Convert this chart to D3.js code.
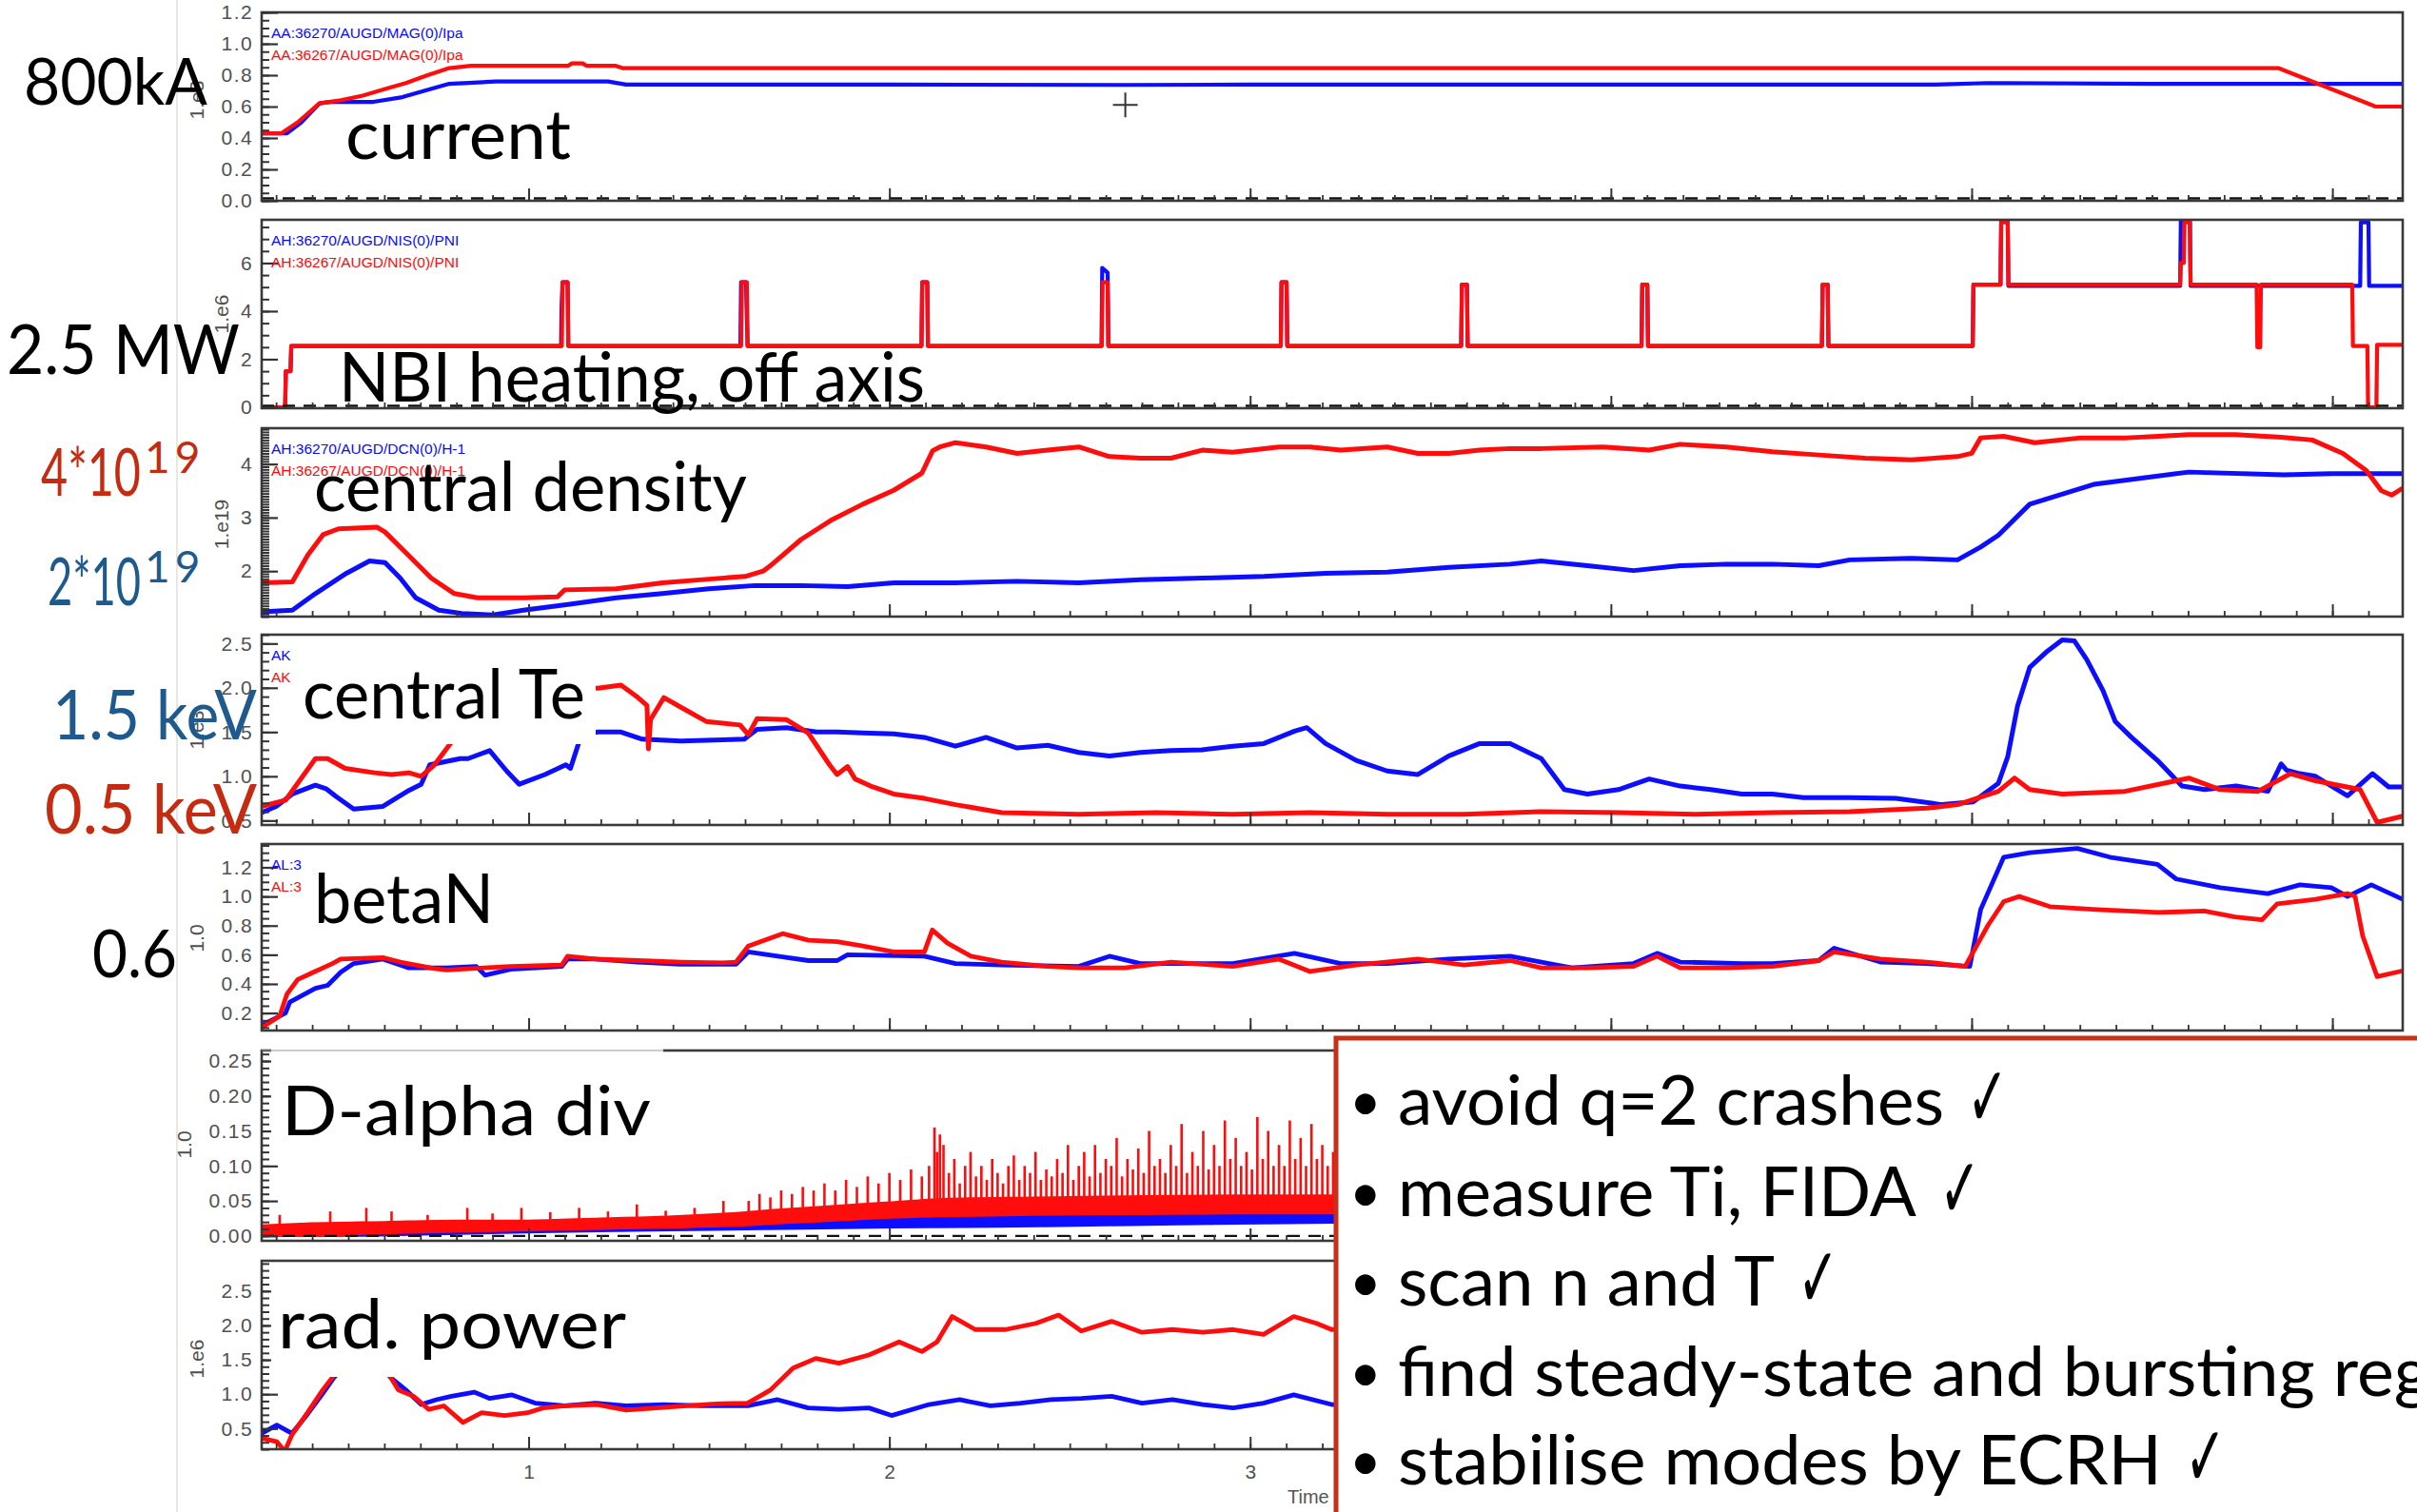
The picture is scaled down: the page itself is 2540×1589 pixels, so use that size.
<!DOCTYPE html>
<html><head><meta charset="utf-8">
<script src="https://cdn.jsdelivr.net/npm/d3@7"></script>
<style>html,body{margin:0;padding:0;background:#fff}svg{display:block}</style>
</head><body>
<svg id="c" width="2540" height="1589"></svg>
<script>
// ---------------- DATA ----------------
const timeDomain=[0.26,6.195];
const xMajorTicks=[1,2,3,4,5,6];
const xMinorTicks=d3.range(3,62).map(d=>d/10);

const ipTicks=[0,0.2,0.4,0.6,0.8,1.0,1.2];
const nbiTicks=[0,2,4,6];
const neTicks=[2,3,4];
const teTicks=[0.5,1.0,1.5,2.0,2.5];
const bnTicks=[0.2,0.4,0.6,0.8,1.0,1.2];
const daTicks=[0,0.05,0.10,0.15,0.20,0.25];
const radTicks=[0.5,1.0,1.5,2.0,2.5];

const ipLegend=["AA:36270/AUGD/MAG(0)/Ipa","AA:36267/AUGD/MAG(0)/Ipa"];
const nbiLegend=["AH:36270/AUGD/NIS(0)/PNI","AH:36267/AUGD/NIS(0)/PNI"];
const neLegend=["AH:36270/AUGD/DCN(0)/H-1","AH:36267/AUGD/DCN(0)/H-1"];
const teLegend=["AK","AK"];
const bnLegend=["AL:3","AL:3"];
const expLabels=["1.e3","1.e6","1.e19","1.e3","1.0","1.0","1.e6"];
const panelTitles=["current","NBI heating, off axis","central density","central Te","betaN","D-alpha div","rad. power"];
const sideLabels=["800kA","2.5 MW","4*10","19","2*10","19","1.5 keV","0.5 keV","0.6"];
const bullets=["avoid q=2 crashes","measure Ti, FIDA","scan n and T","find steady-state and bursting reg","stabilise modes by ECRH"];
const bulletChecks=[true,true,true,false,true];

// plasma current (MA) [time s, value]
const ipBlue=[[0.26,0.43],[0.33,0.43],[0.37,0.5],[0.42,0.62],[0.45,0.63],[0.57,0.63],[0.65,0.66],[0.71,0.7],[0.78,0.745],[0.91,0.76],[1.22,0.76],[1.27,0.74],[2.0,0.74],[2.654,0.738],[3.0,0.74],[4.0,0.74],[4.9,0.74],[5.05,0.75],[5.5,0.745],[6.0,0.745],[6.195,0.745]];
const ipRed=[[0.26,0.43],[0.315,0.43],[0.36,0.5],[0.42,0.62],[0.48,0.64],[0.54,0.67],[0.6,0.71],[0.66,0.75],[0.72,0.8],[0.78,0.845],[0.84,0.86],[1.11,0.86],[1.12,0.875],[1.15,0.875],[1.16,0.86],[1.24,0.86],[1.26,0.845],[2.0,0.845],[3.0,0.845],[4.0,0.845],[5.0,0.845],[5.85,0.845],[6.12,0.6],[6.195,0.6]];

// NBI power (MW)
const nbiBlue=[[0.26,0],[0.325,0],[0.327,1.5],[0.34,1.5],[0.342,2.55],
[1.09,2.55],[1.091,4.0],[1.094,5.2],[1.108,5.2],[1.11,2.55],
[1.587,2.55],[1.589,5.2],[1.603,5.2],[1.604,4.3],[1.607,2.55],
[2.089,2.55],[2.091,5.2],[2.105,5.2],[2.107,2.55],
[2.588,2.55],[2.59,5.8],[2.605,5.6],[2.607,2.55],
[3.085,2.55],[3.087,5.2],[3.101,5.2],[3.103,2.55],
[3.585,2.55],[3.587,5.1],[3.601,5.1],[3.603,2.55],
[4.085,2.55],[4.087,5.1],[4.101,5.1],[4.103,2.55],
[4.585,2.55],[4.587,5.1],[4.601,5.1],[4.603,2.55],
[5.003,2.55],[5.005,5.1],[5.08,5.1],[5.082,7.8],[5.10,7.8],[5.102,5.05],
[5.578,5.05],[5.58,7.8],[5.605,7.8],[5.607,5.05],[6.077,5.05],[6.079,7.7],[6.10,7.7],[6.102,5.05],[6.195,5.05]];
const nbiRed=[[0.26,0],[0.325,0],[0.327,1.5],[0.34,1.5],[0.342,2.55],
[1.092,2.55],[1.094,5.2],[1.108,5.2],[1.11,2.55],
[1.589,2.55],[1.591,5.2],[1.605,5.2],[1.607,2.55],
[2.089,2.55],[2.091,5.2],[2.105,5.2],[2.107,2.55],
[2.589,2.55],[2.591,5.2],[2.605,5.2],[2.607,2.55],
[3.085,2.55],[3.087,5.2],[3.101,5.2],[3.103,2.55],
[3.585,2.55],[3.587,5.1],[3.601,5.1],[3.603,2.55],
[4.085,2.55],[4.087,5.1],[4.101,5.1],[4.103,2.55],
[4.585,2.55],[4.587,5.1],[4.601,5.1],[4.603,2.55],
[5.003,2.55],[5.005,5.1],[5.08,5.1],[5.082,7.7],[5.10,7.7],[5.102,5.1],
[5.578,5.1],[5.58,6.0],[5.588,6.0],[5.59,7.7],[5.605,7.7],[5.607,5.1],
[5.79,5.1],[5.792,2.5],[5.80,2.5],[5.802,5.1],
[6.055,5.1],[6.057,2.55],[6.097,2.55],[6.099,0],[6.122,0],[6.124,2.6],[6.195,2.6]];

// central density (1e19 m^-3)
const neBlue=[[0.26,1.24],[0.345,1.27],[0.409,1.58],[0.495,1.96],[0.559,2.19],[0.602,2.16],[0.644,1.87],[0.687,1.5],[0.751,1.27],[0.815,1.21],[0.901,1.18],[0.986,1.27],[1.114,1.38],[1.243,1.5],[1.371,1.58],[1.499,1.67],[1.627,1.73],[1.755,1.73],[1.884,1.71],[2.012,1.78],[2.183,1.78],[2.354,1.81],[2.525,1.78],[2.696,1.84],[2.867,1.87],[3.038,1.9],[3.209,1.96],[3.38,1.98],[3.551,2.07],[3.721,2.13],[3.807,2.19],[3.935,2.1],[4.063,2.01],[4.192,2.1],[4.32,2.13],[4.448,2.13],[4.576,2.1],[4.662,2.21],[4.833,2.24],[4.961,2.21],[5.025,2.45],[5.074,2.67],[5.161,3.25],[5.338,3.62],[5.602,3.85],[5.865,3.8],[6.0,3.82],[6.195,3.82]];
const neRed=[[0.26,1.78],[0.345,1.8],[0.388,2.3],[0.43,2.68],[0.473,2.79],[0.58,2.82],[0.602,2.73],[0.666,2.3],[0.73,1.87],[0.794,1.58],[0.858,1.5],[0.986,1.5],[1.08,1.52],[1.10,1.65],[1.243,1.67],[1.371,1.78],[1.5,1.85],[1.6,1.9],[1.65,2.0],[1.67,2.1],[1.755,2.59],[1.841,2.96],[1.926,3.25],[2.012,3.51],[2.09,3.83],[2.12,4.25],[2.14,4.32],[2.183,4.4],[2.268,4.32],[2.354,4.2],[2.439,4.26],[2.525,4.32],[2.61,4.14],[2.696,4.11],[2.781,4.11],[2.867,4.26],[2.952,4.22],[3.08,4.32],[3.166,4.32],[3.251,4.26],[3.38,4.32],[3.465,4.2],[3.551,4.2],[3.636,4.26],[3.721,4.29],[3.807,4.29],[3.978,4.32],[4.106,4.26],[4.192,4.37],[4.32,4.32],[4.448,4.23],[4.576,4.17],[4.705,4.11],[4.833,4.08],[4.961,4.14],[5.0,4.2],[5.025,4.49],[5.089,4.52],[5.175,4.4],[5.303,4.49],[5.431,4.49],[5.517,4.52],[5.602,4.55],[5.73,4.55],[5.858,4.5],[5.944,4.45],[6.029,4.2],[6.094,3.88],[6.136,3.5],[6.164,3.42],[6.195,3.55]];

// central Te (keV)
const teBlue=[[0.26,0.59],[0.3,0.66],[0.345,0.8],[0.409,0.9],[0.438,0.86],[0.467,0.77],[0.515,0.63],[0.596,0.66],[0.668,0.84],[0.702,0.91],[0.726,1.13],[0.81,1.2],[0.832,1.2],[0.892,1.29],[0.939,1.06],[0.974,0.91],[1.045,1.02],[1.103,1.13],[1.116,1.09],[1.139,1.38],[1.16,1.48],[1.192,1.5],[1.256,1.5],[1.315,1.42],[1.422,1.4],[1.515,1.41],[1.598,1.42],[1.633,1.53],[1.715,1.55],[1.798,1.5],[1.855,1.5],[1.926,1.49],[2.012,1.48],[2.097,1.44],[2.183,1.34],[2.268,1.44],[2.354,1.32],[2.439,1.35],[2.525,1.27],[2.61,1.23],[2.696,1.27],[2.781,1.29],[2.867,1.3],[2.952,1.34],[3.038,1.37],[3.123,1.51],[3.157,1.55],[3.209,1.37],[3.294,1.18],[3.38,1.06],[3.465,1.02],[3.551,1.23],[3.636,1.37],[3.721,1.37],[3.807,1.2],[3.871,0.85],[3.935,0.8],[4.021,0.85],[4.106,0.97],[4.192,0.89],[4.277,0.85],[4.363,0.8],[4.448,0.8],[4.534,0.76],[4.662,0.76],[4.79,0.75],[4.918,0.68],[5.004,0.71],[5.074,0.92],[5.1,1.22],[5.127,1.79],[5.161,2.23],[5.206,2.4],[5.251,2.54],[5.285,2.53],[5.319,2.32],[5.364,1.97],[5.398,1.62],[5.443,1.44],[5.515,1.18],[5.583,0.89],[5.646,0.85],[5.733,0.89],[5.821,0.83],[5.858,1.14],[5.873,1.07],[5.91,1.03],[5.953,1.0],[6.042,0.78],[6.111,1.03],[6.156,0.88],[6.195,0.88]];
const teRed=[[0.26,0.66],[0.326,0.73],[0.409,1.2],[0.443,1.2],[0.491,1.09],[0.573,1.04],[0.62,1.02],[0.668,1.04],[0.702,1.0],[0.739,1.13],[0.785,1.38],[0.83,1.6],[0.9,1.9],[1.0,2.0],[1.1,2.0],[1.192,1.995],[1.256,2.03],[1.303,1.89],[1.328,1.8],[1.332,1.31],[1.338,1.64],[1.375,1.89],[1.422,1.78],[1.492,1.62],[1.586,1.58],[1.609,1.47],[1.633,1.65],[1.715,1.64],[1.775,1.49],[1.834,1.13],[1.855,1.02],[1.884,1.11],[1.905,0.97],[1.948,0.89],[2.012,0.8],[2.097,0.75],[2.183,0.68],[2.311,0.59],[2.525,0.57],[2.739,0.59],[2.952,0.57],[3.166,0.59],[3.38,0.57],[3.593,0.57],[3.807,0.6],[4.021,0.59],[4.234,0.57],[4.448,0.59],[4.662,0.6],[4.876,0.64],[4.961,0.68],[5.074,0.83],[5.119,0.98],[5.161,0.85],[5.251,0.8],[5.425,0.83],[5.602,0.98],[5.689,0.85],[5.794,0.83],[5.884,1.03],[5.953,0.95],[6.077,0.85],[6.124,0.48],[6.195,0.55]];

// betaN
const bnBlue=[[0.26,0.115],[0.326,0.2],[0.338,0.275],[0.409,0.37],[0.443,0.39],[0.479,0.48],[0.515,0.54],[0.596,0.57],[0.668,0.51],[0.773,0.51],[0.855,0.52],[0.879,0.46],[0.95,0.5],[1.092,0.52],[1.108,0.57],[1.185,0.57],[1.303,0.55],[1.422,0.535],[1.575,0.535],[1.609,0.62],[1.704,0.585],[1.776,0.56],[1.855,0.56],[1.884,0.6],[2.097,0.59],[2.183,0.54],[2.311,0.53],[2.525,0.52],[2.61,0.59],[2.696,0.54],[2.952,0.54],[3.123,0.61],[3.251,0.54],[3.38,0.54],[3.551,0.57],[3.721,0.59],[3.807,0.55],[3.892,0.51],[4.063,0.54],[4.128,0.61],[4.192,0.55],[4.363,0.54],[4.448,0.54],[4.576,0.56],[4.619,0.645],[4.747,0.55],[4.876,0.54],[4.995,0.52],[5.025,0.91],[5.089,1.27],[5.161,1.3],[5.293,1.33],[5.383,1.27],[5.515,1.22],[5.567,1.12],[5.689,1.06],[5.821,1.02],[5.91,1.08],[5.997,1.06],[6.042,1.0],[6.108,1.08],[6.195,0.98]];
const bnRed=[[0.26,0.1],[0.31,0.18],[0.33,0.33],[0.36,0.43],[0.395,0.47],[0.456,0.54],[0.479,0.57],[0.596,0.58],[0.644,0.55],[0.739,0.505],[0.773,0.495],[0.95,0.52],[1.092,0.53],[1.108,0.59],[1.185,0.57],[1.303,0.56],[1.422,0.55],[1.538,0.545],[1.575,0.55],[1.609,0.66],[1.704,0.745],[1.776,0.7],[1.855,0.69],[1.926,0.66],[2.012,0.62],[2.097,0.62],[2.119,0.77],[2.161,0.68],[2.226,0.59],[2.311,0.55],[2.439,0.52],[2.525,0.51],[2.653,0.51],[2.781,0.55],[2.952,0.52],[3.08,0.57],[3.166,0.485],[3.294,0.53],[3.465,0.57],[3.593,0.53],[3.721,0.56],[3.807,0.51],[3.935,0.51],[4.063,0.52],[4.128,0.59],[4.192,0.51],[4.32,0.51],[4.448,0.52],[4.576,0.56],[4.619,0.62],[4.747,0.57],[4.876,0.55],[4.982,0.52],[5.046,0.805],[5.089,0.965],[5.132,1.0],[5.217,0.93],[5.346,0.91],[5.517,0.89],[5.645,0.9],[5.73,0.86],[5.805,0.84],[5.847,0.95],[5.953,0.98],[6.042,1.02],[6.063,1.0],[6.084,0.73],[6.124,0.45],[6.195,0.49]];

// D-alpha divertor: noise band [t, low, high] and ELM spikes [t, peak]
const daBlueBand=[[0.26,0.0,0.01],[0.5,0.0,0.012],[0.8,0.003,0.015],[1.1,0.006,0.018],[1.4,0.008,0.021],[1.7,0.01,0.024],[2.0,0.012,0.027],[2.3,0.013,0.029],[2.6,0.015,0.031],[2.9,0.017,0.034],[3.3,0.019,0.036]];
const daRedBand=[[0.26,0.002,0.015],[0.4,0.0,0.018],[0.6,0.004,0.02],[0.8,0.006,0.022],[1.0,0.008,0.022],[1.2,0.01,0.025],[1.4,0.012,0.028],[1.55,0.014,0.032],[1.7,0.018,0.038],[1.85,0.022,0.043],[2.0,0.026,0.048],[2.15,0.028,0.053],[2.4,0.03,0.055],[2.7,0.031,0.057],[3.0,0.032,0.058],[3.3,0.032,0.058]];
const daRedSpikes=[[0.31,0.03],[0.45,0.035],[0.55,0.04],[0.62,0.035],[0.72,0.03],[0.83,0.04],[0.9,0.032],[0.98,0.04],[1.06,0.034],[1.14,0.04],[1.22,0.035],[1.3,0.045],[1.38,0.036],[1.46,0.04],[1.54,0.05],
[1.61,0.05],[1.64,0.06],[1.67,0.055],[1.7,0.065],[1.73,0.06],[1.76,0.07],[1.79,0.065],[1.82,0.075],[1.85,0.065],[1.88,0.08],[1.91,0.07],[1.94,0.085],[1.97,0.075],[2.0,0.09],[2.03,0.08],[2.06,0.095],[2.09,0.085],[2.11,0.1],
[2.125,0.155],[2.132,0.12],[2.14,0.145],[2.15,0.13],
[2.165,0.09],[2.18,0.11],[2.195,0.075],[2.21,0.1],[2.225,0.12],[2.24,0.085],[2.255,0.1],[2.27,0.08],[2.285,0.11],[2.3,0.09],[2.315,0.075],[2.33,0.1],[2.345,0.115],[2.36,0.08],[2.375,0.1],[2.39,0.09],[2.405,0.12],[2.42,0.08],[2.435,0.095],[2.45,0.085],[2.465,0.11],[2.48,0.09],[2.495,0.13],[2.51,0.08],[2.525,0.1],[2.54,0.12],[2.555,0.085],[2.57,0.13],[2.585,0.09],[2.6,0.11],[2.615,0.1],[2.63,0.14],[2.645,0.085],[2.66,0.11],[2.675,0.095],[2.69,0.125],[2.705,0.09],[2.72,0.15],[2.735,0.1],[2.75,0.11],[2.765,0.09],[2.78,0.13],[2.795,0.1],[2.81,0.16],[2.825,0.09],[2.84,0.12],[2.855,0.1],[2.87,0.15],[2.885,0.095],[2.9,0.13],[2.915,0.1],[2.93,0.165],[2.945,0.11],[2.96,0.14],[2.975,0.1],[2.99,0.12],[3.005,0.095],[3.02,0.17],[3.035,0.11],[3.05,0.15],[3.065,0.1],[3.08,0.13],[3.095,0.1],[3.11,0.165],[3.125,0.11],[3.14,0.14],[3.155,0.1],[3.17,0.16],[3.185,0.11],[3.2,0.13],[3.215,0.1],[3.23,0.12]];

// radiated power (MW)
const radBlue=[[0.26,0.43],[0.302,0.55],[0.344,0.43],[0.387,0.71],[0.429,1.01],[0.46,1.24],[0.52,1.6],[0.57,1.6],[0.618,1.24],[0.66,1.06],[0.702,0.85],[0.744,0.92],[0.786,0.97],[0.849,1.03],[0.891,0.94],[0.954,0.99],[1.018,0.87],[1.1,0.83],[1.186,0.87],[1.27,0.83],[1.375,0.85],[1.48,0.83],[1.607,0.83],[1.69,0.92],[1.775,0.8],[1.86,0.78],[1.943,0.8],[2.006,0.69],[2.11,0.85],[2.195,0.92],[2.28,0.83],[2.364,0.87],[2.448,0.92],[2.532,0.94],[2.616,0.97],[2.7,0.87],[2.785,0.92],[2.869,0.85],[2.953,0.8],[3.037,0.87],[3.121,0.99],[3.226,0.85],[3.3,0.85]];
const radRed=[[0.26,0.36],[0.302,0.31],[0.324,0.17],[0.344,0.41],[0.387,0.73],[0.429,1.06],[0.47,1.34],[0.52,1.6],[0.57,1.6],[0.618,1.24],[0.639,1.06],[0.681,0.97],[0.723,0.78],[0.765,0.83],[0.818,0.59],[0.87,0.73],[0.933,0.69],[0.997,0.73],[1.04,0.8],[1.1,0.83],[1.19,0.85],[1.27,0.77],[1.354,0.8],[1.438,0.83],[1.52,0.86],[1.607,0.87],[1.67,1.06],[1.733,1.38],[1.796,1.52],[1.86,1.45],[1.943,1.57],[2.027,1.76],[2.09,1.62],[2.132,1.76],[2.174,2.13],[2.238,1.94],[2.322,1.94],[2.406,2.03],[2.469,2.15],[2.532,1.92],[2.616,2.06],[2.7,1.9],[2.785,1.94],[2.869,1.9],[2.953,1.94],[3.037,1.87],[3.121,2.13],[3.184,2.03],[3.226,1.94],[3.3,1.95]];

const cursorMark=[2.654,0.61];

// ---------------- DRAWING ----------------
const W=2540,H=1589, X0=275, X1=2525;
const BLUE="#0a0aff", RED="#ff0a0a";
const LRED="#c42b10", LBLUE="#1e5a8e";
const AXF="Liberation Sans, Arial, sans-serif";
const svg=d3.select("#c");
const defs=svg.append("defs");
defs.append("filter").attr("id","soft").append("feGaussianBlur").attr("stdDeviation",0.7);
svg.append("rect").attr("width",W).attr("height",H).attr("fill","#fff");
svg.append("line").attr("x1",186).attr("x2",186).attr("y1",0).attr("y2",H).attr("stroke","#e8e8e2").attr("stroke-width",2);

const x=d3.scaleLinear().domain(timeDomain).range([X0,X1]);

const panels=[
 {top:13,bottom:211,domain:[0,1.2],ticks:ipTicks,minor:0.05,fmt:d3.format(".1f"),zero:true,blue:ipBlue,red:ipRed,legend:ipLegend,ex:207,ey:105,sw:4.2},
 {top:231,bottom:429,domain:[-0.04,7.8],ticks:nbiTicks,minor:0.5,fmt:d3.format("d"),zero:true,blue:nbiBlue,red:nbiRed,legend:nbiLegend,ex:233,ey:330,sw:4.2},
 {top:450,bottom:648,domain:[1.15,4.67],ticks:neTicks,minor:0.05,fmt:d3.format("d"),blue:neBlue,red:neRed,legend:neLegend,ex:233,ey:551,sw:5},
 {top:667,bottom:867,domain:[0.45,2.6],ticks:teTicks,minor:0.1,fmt:d3.format(".1f"),blue:teBlue,red:teRed,legend:teLegend,ex:207,ey:767,sw:5},
 {top:887,bottom:1083,domain:[0.08,1.36],ticks:bnTicks,minor:0.05,fmt:d3.format(".1f"),blue:bnBlue,red:bnRed,legend:bnLegend,ex:207,ey:986,sw:4.8},
 {top:1104,bottom:1304,domain:[-0.007,0.265],ticks:daTicks,minor:0.01,fmt:d3.format(".2f"),zero:true,legend:null,ex:194,ey:1203,da:true},
 {top:1325,bottom:1523,domain:[0.2,2.94],ticks:radTicks,minor:0.1,fmt:d3.format(".1f"),blue:radBlue,red:radRed,legend:null,ex:207,ey:1428,xlabels:true,sw:4.8}
];

const yScales=[];
panels.forEach((p,i)=>{
  const y=d3.scaleLinear().domain(p.domain).range([p.bottom,p.top]);
  yScales.push(y);
  const g=svg.append("g");
  const cid="clip"+i;
  defs.append("clipPath").attr("id",cid).append("rect").attr("x",X0).attr("y",p.top).attr("width",X1-X0).attr("height",p.bottom-p.top);
  const lg=g.append("g").attr("clip-path",`url(#${cid})`);
  const sg=lg.append("g").attr("filter","url(#soft)");
  if(p.da){
    const band=d3.area().x(d=>x(d[0])).y0(d=>y(d[1])).y1(d=>y(d[2])).curve(d3.curveMonotoneX);
    sg.append("path").datum(daBlueBand).attr("d",band).attr("fill",BLUE).attr("stroke",BLUE).attr("stroke-width",2);
    sg.append("path").datum(daRedBand).attr("d",band).attr("fill",RED).attr("stroke",RED).attr("stroke-width",2);
    const hiAt=t=>{const b=daRedBand;let k=b.findIndex(d=>d[0]>=t);if(k<=0)return b[0][2];const a=b[k-1],c=b[k];return a[2]+(c[2]-a[2])*(t-a[0])/(c[0]-a[0]);};
    sg.selectAll(".spk").data(daRedSpikes).join("line").attr("x1",d=>x(d[0])).attr("x2",d=>x(d[0]))
      .attr("y1",d=>y(hiAt(d[0]))).attr("y2",d=>y(d[1])).attr("stroke",RED).attr("stroke-width",2.6);
  } else {
    const line=d3.line().x(d=>x(d[0])).y(d=>y(d[1]));
    sg.append("path").datum(p.blue).attr("d",line).attr("fill","none").attr("stroke",BLUE).attr("stroke-width",p.sw).attr("stroke-linejoin","round");
    sg.append("path").datum(p.red).attr("d",line).attr("fill","none").attr("stroke",RED).attr("stroke-width",p.sw).attr("stroke-linejoin","round");
  }
  if(p.zero){
    const yz=Math.min(y(0),p.bottom-2.5);
    lg.append("line").attr("x1",X0).attr("x2",X1).attr("y1",yz).attr("y2",yz).attr("stroke","#111").attr("stroke-width",2.4).attr("stroke-dasharray","13,9");
  }
  // frame
  g.append("rect").attr("x",X0).attr("y",p.top).attr("width",X1-X0).attr("height",p.bottom-p.top).attr("fill","none").attr("stroke","#3a3a3a").attr("stroke-width",2.6);
  // y minor ticks
  const lo=Math.ceil(p.domain[0]/p.minor-1e-6), hi=Math.floor(p.domain[1]/p.minor+1e-6);
  const minorVals=d3.range(lo,hi+1).map(k=>+(k*p.minor).toFixed(4));
  const ym=g.append("g").attr("transform",`translate(${X0},0)`).call(d3.axisLeft(y).tickValues(minorVals).tickSize(-8).tickFormat(""));
  ym.select(".domain").remove(); ym.selectAll("line").attr("stroke","#333").attr("stroke-width",2);
  const ya=g.append("g").attr("transform",`translate(${X0},0)`).call(d3.axisLeft(y).tickValues(p.ticks).tickSizeInner(-17).tickSizeOuter(0).tickPadding(9).tickFormat(p.fmt));
  ya.select(".domain").remove(); ya.selectAll("line").attr("stroke","#333").attr("stroke-width",2.2);
  ya.selectAll("text").attr("font-family",AXF).attr("font-size",21).attr("letter-spacing",1.4).attr("fill","#505050");
  // x ticks
  const xm=g.append("g").attr("transform",`translate(0,${p.bottom})`).call(d3.axisBottom(x).tickValues(xMinorTicks).tickSize(-6).tickFormat(""));
  xm.select(".domain").remove(); xm.selectAll("line").attr("stroke","#333").attr("stroke-width",1.8);
  const xa=g.append("g").attr("transform",`translate(0,${p.bottom})`).call(d3.axisBottom(x).tickValues(xMajorTicks).tickSizeInner(-13).tickSizeOuter(0).tickPadding(16).tickFormat(p.xlabels?d3.format("d"):""));
  xa.select(".domain").remove(); xa.selectAll("line").attr("stroke","#333").attr("stroke-width",2);
  xa.selectAll("text").attr("font-family",AXF).attr("font-size",21).attr("fill","#505050");
  // legend
  if(p.legend){
    p.legend.forEach((t,j)=>{
      g.append("text").attr("x",X0+10).attr("y",p.top+27+j*23).text(t)
        .attr("font-family",AXF).attr("font-size",15.5).attr("fill",j?RED:BLUE);
    });
  }
  // exponent label
  svg.append("text").attr("transform",`translate(${p.ex},${p.ey}) rotate(-90)`).attr("text-anchor","middle").attr("dy","0.35em")
    .text(expLabels[i]).attr("font-family",AXF).attr("font-size",21).attr("fill","#505050");
});

// cursor mark
{
  const cx=x(cursorMark[0]), cy=yScales[0](cursorMark[1]);
  svg.append("path").attr("d",`M${cx-13},${cy}H${cx+13}M${cx},${cy-13}V${cy+13}`).attr("stroke","#333").attr("stroke-width",2);
}
// "Time" axis title
svg.append("text").attr("x",1353).attr("y",1580).text("Time").attr("font-family",AXF).attr("font-size",20).attr("fill","#555");

// white masks behind some titles
svg.append("rect").attr("x",305).attr("y",697).attr("width",321).attr("height",85).attr("fill","#fff");
svg.append("rect").attr("x",285).attr("y",1099).attr("width",412).attr("height",122).attr("fill","#fff");
svg.append("line").attr("x1",X0).attr("x2",697).attr("y1",1104).attr("y2",1104).attr("stroke","#999").attr("stroke-width",1);
svg.append("rect").attr("x",285).attr("y",1335).attr("width",383).attr("height",112).attr("fill","#fff");

// panel titles
const titleLayout=[[363,167,237],[356,422,616],[330,537,455],[318,755,297],[330,970,189],[296,1193,388],[292,1417,366]];
panelTitles.forEach((t,i)=>{
  const [tx,ty,tl]=titleLayout[i];
  svg.append("text").attr("x",tx).attr("y",ty).text(t).attr("font-family","Lato, sans-serif").attr("font-size",72)
    .attr("textLength",tl).attr("lengthAdjust","spacingAndGlyphs").attr("fill","#000");
});

// side labels [x, baseline, length(or null), size, colour, letterSpacing]
const sideLayout=[
 [25,110,193,68,"#000"],[7,393,245,71,"#000"],
 [43,521,105,70,LRED],[152,497,null,46,LRED,5],
 [50,636,98,70,LBLUE],[152,612,null,46,LBLUE,5],
 [55,777,215,71,LBLUE],[47,876,223,71,LRED],[97,1027,89,70,"#000"]];
sideLabels.forEach((t,i)=>{
  const [sx,sy,sl,fs,col,ls]=sideLayout[i];
  const tt=svg.append("text").attr("x",sx).attr("y",sy).text(t).attr("font-family","Lato, sans-serif").attr("font-size",fs).attr("fill",col);
  if(sl) tt.attr("textLength",sl).attr("lengthAdjust","spacingAndGlyphs");
  if(ls) tt.attr("letter-spacing",ls);
});

// text box
svg.append("rect").attr("x",1404).attr("y",1091).attr("width",1160).attr("height",520).attr("fill","#fff").attr("stroke","#c8301a").attr("stroke-width",5);
const bulletLayout=[[1182,574],[1278,545],[1372,396],[1467,1085],[1560,803]];
bullets.forEach((t,i)=>{
  const [by,bl]=bulletLayout[i];
  svg.append("text").attr("x",1418).attr("y",by-4).text("•").attr("font-family","Lato, sans-serif").attr("font-size",58).attr("fill","#000");
  svg.append("text").attr("x",1469).attr("y",by).text(t).attr("font-family","Lato, sans-serif").attr("font-size",72)
    .attr("textLength",bl).attr("lengthAdjust","spacingAndGlyphs").attr("fill","#000");
  if(bulletChecks[i]){
    svg.append("text").attr("transform",`translate(${1469+bl+24},${by+2}) scale(0.72,1.25)`).text("✓")
      .attr("font-family","DejaVu Sans, sans-serif").attr("font-size",72).attr("fill","#000");
  }
});
</script>
</body></html>
